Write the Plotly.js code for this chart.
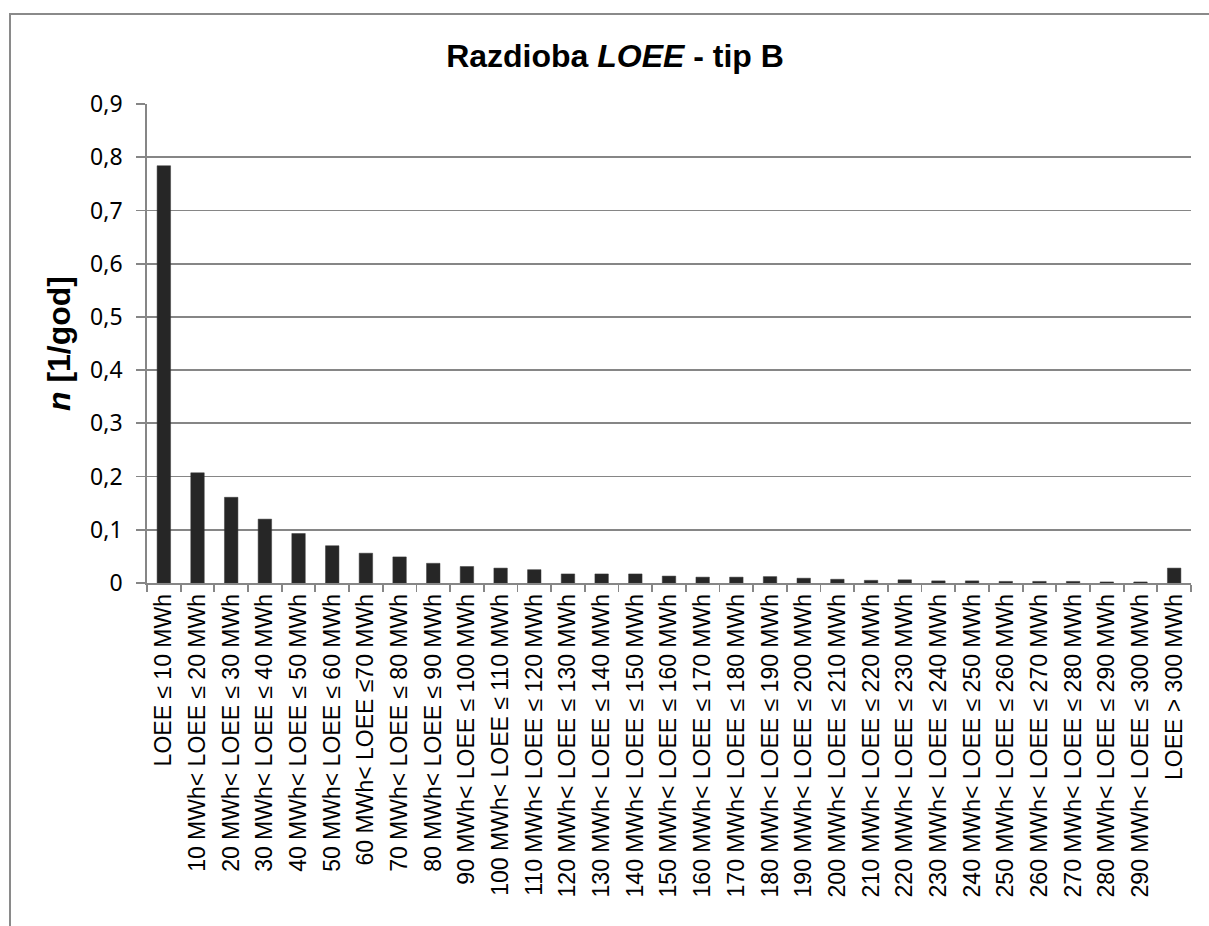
<!DOCTYPE html>
<html>
<head>
<meta charset="utf-8">
<script src="https://cdn.plot.ly/plotly-3.0.1.min.js"></script>
<style>
  html, body { margin: 0; padding: 0; background: #ffffff; overflow: hidden; }
  #frame { position: absolute; left: 9px; top: 13px; width: 1400px; height: 1200px;
           border-left: 2px solid #8a8a8a; border-top: 2px solid #8a8a8a; }
  #chart { position: absolute; left: 0; top: 0; width: 1209px; height: 926px; }
</style>
</head>
<body>
<div id="frame"></div>
<div id="chart"></div>
<script>
const categories = [
  "LOEE ≤ 10 MWh",
  "10 MWh< LOEE ≤ 20 MWh",
  "20 MWh< LOEE ≤ 30 MWh",
  "30 MWh< LOEE ≤ 40 MWh",
  "40 MWh< LOEE ≤ 50 MWh",
  "50 MWh< LOEE ≤ 60 MWh",
  "60 MWh< LOEE ≤70 MWh",
  "70 MWh< LOEE ≤ 80 MWh",
  "80 MWh< LOEE ≤ 90 MWh",
  "90 MWh< LOEE ≤ 100 MWh",
  "100 MWh< LOEE ≤ 110 MWh",
  "110 MWh< LOEE ≤ 120 MWh",
  "120 MWh< LOEE ≤ 130 MWh",
  "130 MWh< LOEE ≤ 140 MWh",
  "140 MWh< LOEE ≤ 150 MWh",
  "150 MWh< LOEE ≤ 160 MWh",
  "160 MWh< LOEE ≤ 170 MWh",
  "170 MWh< LOEE ≤ 180 MWh",
  "180 MWh< LOEE ≤ 190 MWh",
  "190 MWh< LOEE ≤ 200 MWh",
  "200 MWh< LOEE ≤ 210 MWh",
  "210 MWh< LOEE ≤ 220 MWh",
  "220 MWh< LOEE ≤ 230 MWh",
  "230 MWh< LOEE ≤ 240 MWh",
  "240 MWh< LOEE ≤ 250 MWh",
  "250 MWh< LOEE ≤ 260 MWh",
  "260 MWh< LOEE ≤ 270 MWh",
  "270 MWh< LOEE ≤ 280 MWh",
  "280 MWh< LOEE ≤ 290 MWh",
  "290 MWh< LOEE ≤ 300 MWh",
  "LOEE > 300 MWh"
];

const frequency = [
  0.784, 0.207, 0.161, 0.120, 0.093, 0.070, 0.056, 0.049, 0.037, 0.031,
  0.028, 0.025, 0.017, 0.017, 0.017, 0.013, 0.011, 0.011, 0.012, 0.009,
  0.007, 0.005, 0.006, 0.004, 0.004, 0.003, 0.003, 0.003, 0.002, 0.002,
  0.028
];

const yTickValues = [0, 0.1, 0.2, 0.3, 0.4, 0.5, 0.6, 0.7, 0.8, 0.9];

const chartTitle = "Razdioba <i>LOEE</i> - tip B";
const yTitle = "<i>n</i> [1/god]";

const trace = {
  type: "bar",
  x: categories,
  y: frequency,
  marker: { color: "#262626", line: { color: "#3a3a3a", width: 0.5 } },
  hoverinfo: "x+y"
};

const layout = {
  width: 1209,
  height: 926,
  paper_bgcolor: "rgba(0,0,0,0)",
  plot_bgcolor: "rgba(0,0,0,0)",
  separators: ", ",
  showlegend: false,
  bargap: 0.6,
  margin: { l: 147, r: 18, t: 104, b: 343, pad: 0 },
  title: {
    text: chartTitle,
    font: { family: "Liberation Sans, Arial, sans-serif", size: 32, color: "#000000", weight: "bold" },
    xref: "container", x: 0.5087,
    yref: "container", y: 0.9395, yanchor: "middle", xanchor: "center"
  },
  xaxis: {
    type: "category",
    tickson: "boundaries",
    ticks: "outside",
    ticklen: 7,
    tickwidth: 1.8,
    tickcolor: "#868686",
    tickangle: -90,
    tickfont: { family: "Liberation Sans, Arial, sans-serif", size: 23, color: "#000000" },
    showline: true,
    linecolor: "#868686",
    linewidth: 1.8,
    showgrid: false,
    automargin: false,
    fixedrange: true
  },
  yaxis: {
    range: [0, 0.9],
    tickvals: yTickValues,
    ticks: "outside",
    ticklen: 9,
    tickwidth: 1.8,
    tickcolor: "#868686",
    tickfont: { family: "Noto Sans, Open Sans, sans-serif", size: 23, color: "#000000" },
    ticklabelstandoff: 9,
    showline: true,
    linecolor: "#868686",
    linewidth: 1.8,
    showgrid: true,
    gridcolor: "#868686",
    gridwidth: 1.8,
    zeroline: false,
    automargin: false,
    fixedrange: true,
    title: {
      text: yTitle,
      font: { family: "Liberation Sans, Arial, sans-serif", size: 32, color: "#000000", weight: "bold" },
      standoff: 10
    }
  }
};

Plotly.newPlot("chart", [trace], layout, { displayModeBar: false, staticPlot: true });
</script>
</body>
</html>
